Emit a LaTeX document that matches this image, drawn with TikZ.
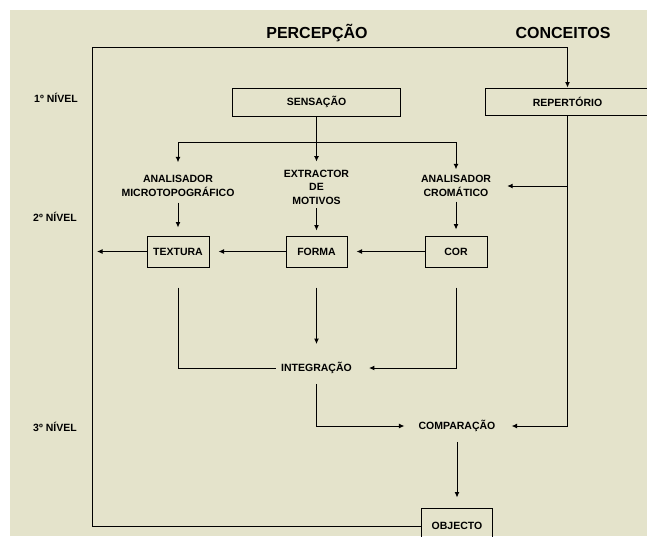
\documentclass[tikz,border=0pt]{standalone}
\usepackage{fontspec}
\setmainfont{Liberation Sans}
\usetikzlibrary{arrows.meta}
\definecolor{paper}{RGB}{228,227,203}
\begin{document}
\begin{tikzpicture}[x=1pt,y=-1pt,
  lbl/.style={font=\bfseries\fontsize{10.5}{13.5}\selectfont, align=center, inner sep=0pt},
  head/.style={font=\bfseries\fontsize{16}{18}\selectfont, inner sep=0pt},
  box/.style={draw, line width=1pt, lbl},
  wire/.style={line width=1pt},
  arr/.style={wire, -{Latex[length=5.5pt,width=5pt]}},
]
\useasboundingbox (0,0) rectangle (647,536);
\fill[white] (0,0) rectangle (647,536);
\fill[paper] (10,10) rectangle (647,536);
\begin{scope}
\clip (10,10) rectangle (647,536);

% titles and levels
\node[head] (perc) at (317,33) {PERCEPÇÃO};
\node[head] (conc) at (563,33) {CONCEITOS};
\node[lbl] (lv1) at (56,98) {1º NÍVEL};
\node[lbl] (lv2) at (55,217) {2º NÍVEL};
\node[lbl] (lv3) at (55,427) {3º NÍVEL};

% first level
\node[box, minimum width=168pt, minimum height=28pt] (sens) at (316.5,102) {SENSAÇÃO};
\node[box, minimum width=165pt, minimum height=27pt] (rep) at (567.5,101.5) {REPERTÓRIO};

% analysers
\node[lbl] (amic) at (178,186) {ANALISADOR\\MICROTOPOGRÁFICO};
\node[lbl] (ext) at (316.5,187) {EXTRACTOR\\DE\\MOTIVOS};
\node[lbl] (acr) at (456,186) {ANALISADOR\\CROMÁTICO};

% second level boxes
\node[box, minimum width=62pt, minimum height=31pt] (tex) at (178,251.5) {TEXTURA};
\node[box, minimum width=61pt, minimum height=31pt] (form) at (316.5,251.5) {FORMA};
\node[box, minimum width=62pt, minimum height=31pt] (cor) at (456,251.5) {COR};

% third level
\node[lbl] (integ) at (316.5,368) {INTEGRAÇÃO};
\node[lbl] (comp) at (457,426) {COMPARAÇÃO};
\node[box, minimum width=71pt, minimum height=36pt] (obj) at (457,526) {OBJECTO};

\coordinate (tl) at (92,47);
\coordinate (split) at (316.5,142);
\coordinate (lf) at (92,251.5);

% feedback loop from the object back to the repertoire
\draw[arr] (obj.west) -| (tl) -| (rep.north);

% sensation to the analysers
\draw[wire] (sens.south) -- (split);
\draw[arr, shorten >=13pt] (split) -| (amic.north);
\draw[arr, shorten >=8pt] (split) -- (ext.north);
\draw[arr, shorten >=6pt] (split) -| (acr.north);

% analysers to boxes
\draw[arr, shorten <=6pt, shorten >=8pt] (amic.south) -- (tex.north);
\draw[arr, shorten <=4pt, shorten >=5pt] (ext.south) -- (form.north);
\draw[arr, shorten <=5pt, shorten >=6pt] (acr.south) -- (cor.north);

% horizontal chain
\draw[arr, shorten >=9pt] (cor.west) -- (form.east);
\draw[arr, shorten >=9pt] (form.west) -- (tex.east);
\draw[arr, shorten >=5pt] (tex.west) -- (lf);

% repertoire feeds
\draw[arr, shorten >=16pt] (rep.south) |- (comp.east);
\draw[arr, shorten >=16pt] (rep.south |- acr.east) -- (acr.east);

% integration
\draw[wire, shorten <=20pt, shorten >=5pt] (tex.south) |- (integ.west);
\draw[arr, shorten <=20pt, shorten >=18pt] (form.south) -- (integ.north);
\draw[arr, shorten <=20pt, shorten >=17pt] (cor.south) |- (integ.east);

% comparison and object
\draw[arr, shorten <=10pt, shorten >=14pt] (integ.south) |- (comp.west);
\draw[arr, shorten <=10pt, shorten >=10pt] (comp.south) -- (obj.north);
\end{scope}
\end{tikzpicture}
\end{document}
